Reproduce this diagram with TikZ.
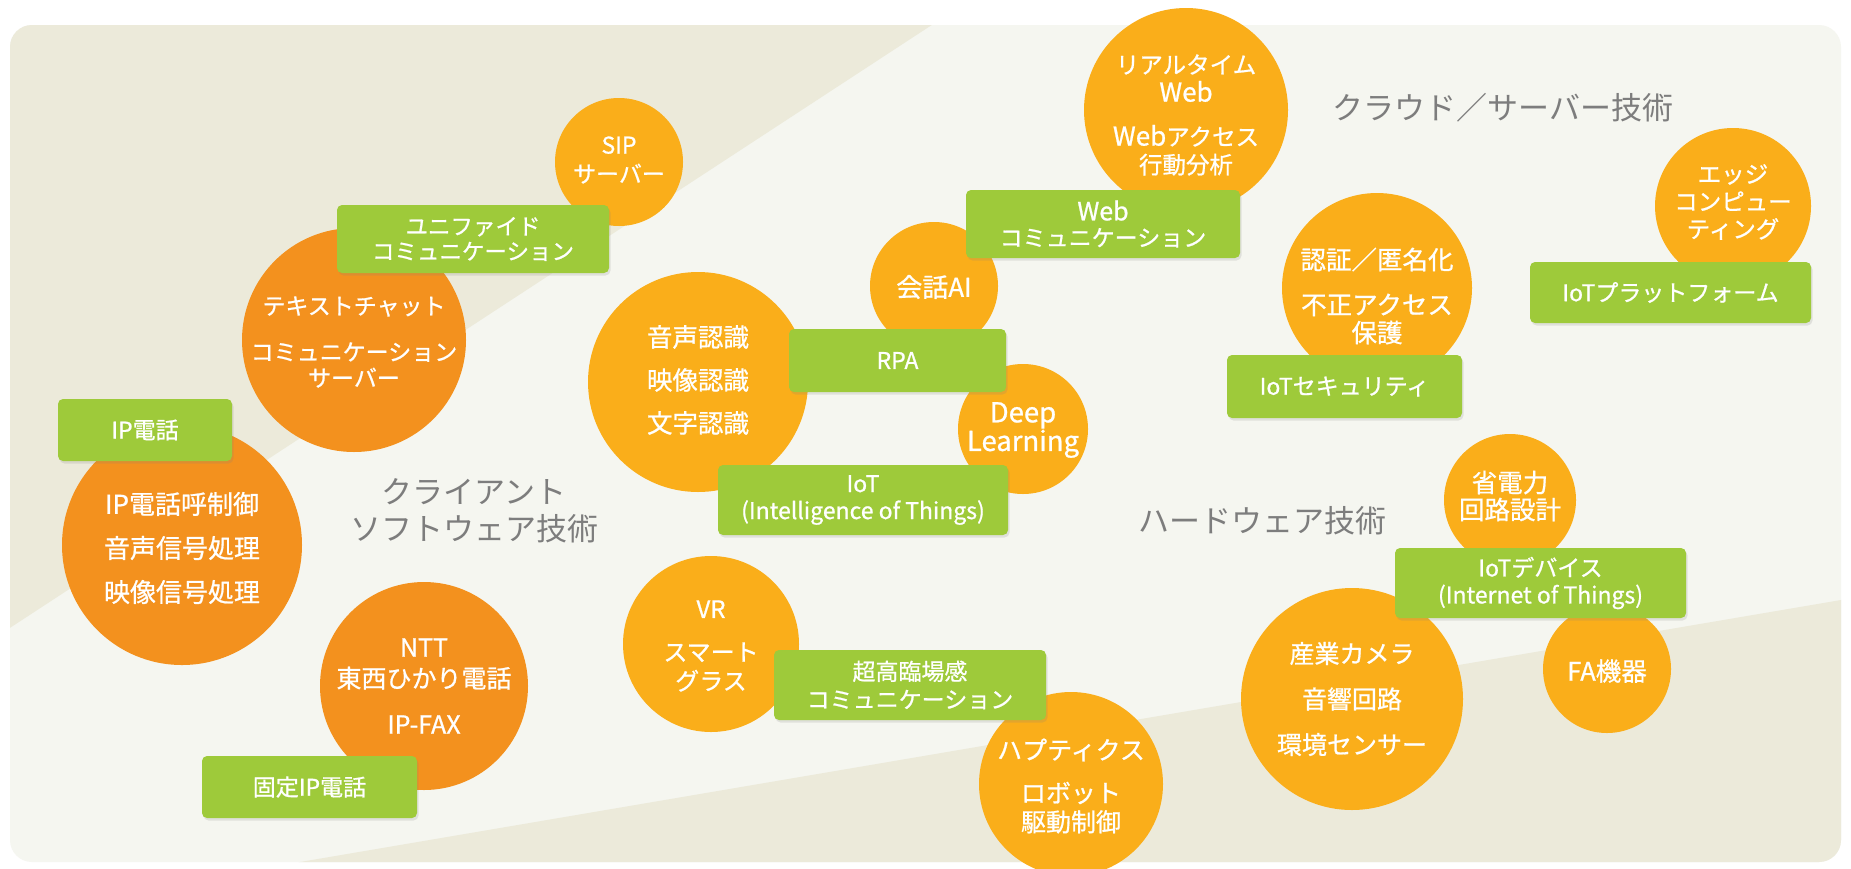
\documentclass[tikz,border=0pt]{standalone}
\usepackage{fontspec}
\setmainfont{Noto Sans CJK JP}
\newfontfamily\jpw[FakeBold=0.8]{Noto Sans CJK JP}
\usetikzlibrary{shadows}
\definecolor{panel}{HTML}{F5F6F0}
\definecolor{beige}{HTML}{ECEADA}
\definecolor{dorange}{HTML}{F3911E}
\definecolor{amber}{HTML}{FAAE1A}
\definecolor{leaf}{HTML}{9ECA3A}
\definecolor{labelgray}{HTML}{7D7D7D}
\newcommand\fsz[2]{\fontsize{#1}{#2}\selectfont}
\tikzset{
  circ/.style={circle, inner sep=0pt, draw=none},
  darkc/.style={circ, fill=dorange},
  ambc/.style={circ, fill=amber},
  ct/.style 2 args={text=white, align=center, inner sep=0pt, font={\jpw\fsz{#1}{#2}}},
  gbox/.style={fill=leaf, rounded corners=5pt, inner sep=0pt, text=white, align=center,
    drop shadow={shadow xshift=1.5pt, shadow yshift=-2.5pt, opacity=0.18}},
  bt/.style 2 args={font={\jpw\fsz{#1}{#2}}},
  cat/.style={text=labelgray, align=center, inner sep=0pt, font={\fsz{31}{37}}},
}
\begin{document}
\begin{tikzpicture}[x=1pt, y=-1pt]
\useasboundingbox (0,0) rectangle (1851,868);
\fill[white] (0,0) rectangle (1851,868);
% panel
\fill[panel, rounded corners=22pt] (10,25) rectangle (1841,862);
\begin{scope}
  \clip[rounded corners=22pt] (10,25) rectangle (1841,862);
  \fill[beige] (0,0) -- (970,0) -- (0,634.4) -- cycle;
  \fill[beige] (264.7,868) -- (1851,598.3) -- (1851,868) -- cycle;
\end{scope}

% category labels
\node[cat] (cloud) at (1503,108) {クラウド／サーバー技術};
\node[cat] (client) at (474,511) {クライアント\\ソフトウェア技術};
\node[cat] (hard) at (1262,521) {ハードウェア技術};

% circles
\node[ambc, minimum size=128pt] (sip) at (619,162) {};
\node[darkc, minimum size=224pt] (chat) at (354,340) {};
\node[darkc, minimum size=240pt] (ipc) at (182,545) {};
\node[darkc, minimum size=208pt] (ntt) at (424,686) {};
\node[ambc, minimum size=220pt] (recog) at (698,382) {};
\node[ambc, minimum size=128pt] (ai) at (934,286) {};
\node[ambc, minimum size=130pt] (deep) at (1023,429) {};
\node[ambc, minimum size=204pt] (rtw) at (1186,110) {};
\node[ambc, minimum size=190pt] (auth) at (1377,288) {};
\node[ambc, minimum size=156pt] (edge) at (1733,206) {};
\node[ambc, minimum size=132pt] (power) at (1510,500) {};
\node[ambc, minimum size=222pt] (cam) at (1352,699) {};
\node[ambc, minimum size=128pt] (fa) at (1607,669) {};
\node[ambc, minimum size=176pt] (vr) at (711,644) {};
\node[ambc, minimum size=184pt] (hap) at (1071,784) {};

% circle texts
\node[ct={23}{29}] (sip-t) at (619,160) {SIP\\サーバー};
\node[ct={23}{26}] (chat-t) at (354,342) {テキストチャット\\[20pt]コミュニケーション\\サーバー};
\node[ct={26}{44}] (ipc-t) at (182,548) {IP電話呼制御\\音声信号処理\\映像信号処理};
\node[ct={25}{31}] (ntt-t) at (424,686) {NTT\\東西ひかり電話\\[15pt]IP-FAX};
\node[ct={25.5}{43}] (recog-t) at (698,380) {音声認識\\映像認識\\文字認識};
\node[ct={26}{30}] (ai-t) at (934,287) {会話AI};
\node[ct={27.5}{27}] (deep-t) at (1023,430) {Deep\\Learning};
\node[ct={23.5}{28}] (rtw-t) at (1186,115) {リアルタイム\\{\fsz{26}{28}Web}\\[16pt]{\fsz{26}{28}Web}アクセス\\行動分析};
\node[ct={25.5}{28}] (auth-t) at (1377,296) {認証／匿名化\\[17pt]不正アクセス\\保護};
\node[ct={23.5}{27.5}] (edge-t) at (1733,202) {エッジ\\コンピュー\\ティング};
\node[ct={25.5}{27}] (power-t) at (1510,496) {省電力\\回路設計};
\node[ct={25}{45.5}] (cam-t) at (1352,699) {産業カメラ\\音響回路\\環境センサー};
\node[ct={25.5}{30}] (fa-t) at (1607,671) {FA機器};
\node[ct={24}{29}] (vr-t) at (711,646) {VR\\[14pt]スマート\\グラス};
\node[ct={25}{29}] (hap-t) at (1071,786) {ハプティクス\\[14pt]ロボット\\駆動制御};

% green boxes
\node[gbox, minimum width=272pt, minimum height=68pt, bt={22.5}{25}] (uc) at (473,239) {ユニファイド\\コミュニケーション};
\node[gbox, minimum width=174pt, minimum height=62pt, bt={23}{27}] (ipphone) at (145,430) {IP電話};
\node[gbox, minimum width=215pt, minimum height=62pt, bt={23}{27}] (kotei) at (309.5,787) {固定IP電話};
\node[gbox, minimum width=217pt, minimum height=63pt, bt={23}{27}] (rpa) at (897.5,360.5) {RPA};
\node[gbox, minimum width=290pt, minimum height=70pt, bt={23}{27}] (iot) at (863,500) {IoT\\(Intelligence of Things)};
\node[gbox, minimum width=274pt, minimum height=68pt, bt={23}{26}] (webc) at (1103,224) {{\fsz{25}{26}Web}\\コミュニケーション};
\node[gbox, minimum width=235pt, minimum height=63pt, bt={23}{27}] (sec) at (1344.5,386.5) {IoTセキュリティ};
\node[gbox, minimum width=281pt, minimum height=61pt, bt={23}{27}] (plat) at (1670.5,292.5) {IoTプラットフォーム};
\node[gbox, minimum width=291pt, minimum height=70pt, bt={23}{27}] (dev) at (1540.5,583) {IoTデバイス\\(Internet of Things)};
\node[gbox, minimum width=272pt, minimum height=70pt, bt={23}{28}] (uhc) at (910,685) {超高臨場感\\コミュニケーション};
\end{tikzpicture}
\end{document}
